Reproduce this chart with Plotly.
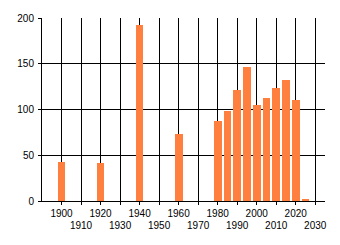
import plotly.graph_objects as go

years = [1900, 1920, 1940, 1960, 1980, 1985, 1990, 1995, 2000, 2005, 2010, 2015, 2020, 2025]
values = [43, 42, 192, 73, 87, 98, 121, 147, 105, 113, 124, 132, 110, 2]
y_ticks = [0, 50, 100, 150, 200]
x_ticks_top = [1900, 1920, 1940, 1960, 1980, 2000, 2020]
x_ticks_bottom = [1910, 1930, 1950, 1970, 1990, 2010, 2030]
all_x_ticks = sorted(x_ticks_top + x_ticks_bottom)

font = dict(family="Liberation Sans, Arial, sans-serif", size=10, color="black")

fig = go.Figure()
fig.add_trace(go.Bar(x=years, y=values, width=4, marker=dict(color="#FF7F3F", line=dict(width=0)),
                     showlegend=False))
# invisible trace to make xaxis2 exist
fig.add_trace(go.Scatter(x=[1890], y=[0], xaxis="x2", mode="markers",
                         marker=dict(opacity=0), showlegend=False, hoverinfo="skip"))

fig.update_layout(
    width=340, height=245,
    margin=dict(l=42, r=15, t=15, b=44),
    paper_bgcolor="white", plot_bgcolor="white",
    font=font,
    bargap=0,
    xaxis=dict(
        range=[1890, 2035], tickmode="array", tickvals=all_x_ticks,
        ticktext=[str(v) if v in x_ticks_top else "" for v in all_x_ticks],
        showgrid=True, gridcolor="black", gridwidth=1,
        showline=True, linecolor="black", linewidth=1,
        ticks="outside", ticklen=3, tickcolor="black", tickwidth=1,
        zeroline=False, tickfont=font,
    ),
    xaxis2=dict(
        range=[1890, 2035], overlaying="x", matches="x", side="bottom",
        anchor="y", tickmode="array", tickvals=x_ticks_bottom,
        ticktext=[str(v) for v in x_ticks_bottom],
        showgrid=False, showline=False, ticks="", zeroline=False,
        ticklabelstandoff=17, tickfont=font,
    ),
    yaxis=dict(
        range=[0, 200], tickmode="array", tickvals=y_ticks,
        showgrid=True, gridcolor="black", gridwidth=1,
        showline=True, linecolor="black", linewidth=1,
        ticks="outside", ticklen=3, tickcolor="black", tickwidth=1,
        zeroline=False, tickfont=font, ticklabelstandoff=2,
    ),
)

fig.write_html("out.html")
